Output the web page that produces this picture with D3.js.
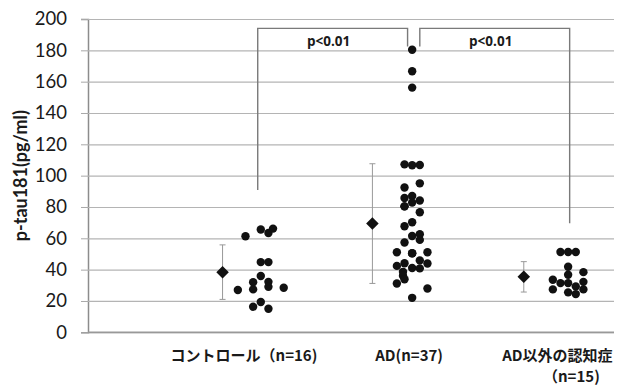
<!DOCTYPE html>
<html>
<head>
<meta charset="utf-8">
<script src="https://cdn.jsdelivr.net/npm/d3@7"></script>
<style>
  body { margin: 0; background: #fff; }
  svg { display: block; }
  .tick text { font-family: Lato, "Noto Sans", sans-serif; }
</style>
</head>
<body>
<svg id="chart"></svg>
<script>
const width = 625;
const height = 386;

// groups: name lines + where the label sits on the x scale
const categories = [["コントロール（n=16)"], ["AD(n=37)"], ["AD以外の認知症", "（n=15)"]];
const categoryPos = [0.88, 1.96, 2.93];

// individual values (x = scatter position, y = pg/ml)
const ctrlX = [0.89, 0.99, 1.04, 1.07, 0.99, 1.04, 0.99, 0.94, 1.04, 0.84, 0.94, 1.04, 1.14, 0.99, 0.94, 1.04];
const ctrlY = [61.3, 65.6, 63.4, 66.2, 44.8, 44.8, 35.9, 32.0, 32.2, 27.0, 27.4, 29.0, 28.4, 19.3, 16.3, 15.0];

const adX = [1.93, 1.98, 2.03, 1.93, 2.03, 1.93, 1.98, 1.98, 2.03, 1.93, 2.03, 1.98, 1.93, 1.98, 2.03, 2.03, 1.93,
  1.88, 1.98, 2.08, 2.03, 1.93, 2.08, 1.88, 1.98, 2.03, 1.92, 1.92, 1.93, 1.88, 2.08, 1.98, 1.98, 1.98, 1.98, 1.93, 1.98];
const adY = [107.2, 106.6, 106.8, 92.4, 95.1, 85.7, 87.0, 82.8, 84.1, 80.4, 76.6, 70.3, 67.7, 61.5, 62.6, 59.0, 57.3,
  51.1, 50.5, 51.1, 45.9, 44.1, 43.9, 42.4, 41.0, 40.8, 38.6, 36.1, 33.9, 31.2, 28.0, 22.0, 180.4, 166.6, 156.2, 80.4, 50.5];

const otherX = [2.95, 3.00, 3.05, 3.00, 3.10, 3.00, 2.90, 2.95, 3.00, 3.10, 3.05, 2.90, 3.10, 3.00, 3.05];
const otherY = [51.3, 51.3, 51.3, 41.8, 38.4, 36.7, 33.5, 31.4, 31.4, 32.2, 29.3, 27.4, 27.4, 25.5, 24.4];

// mean +/- SD per group
const meanX = [0.74, 1.72, 2.71];
const meanY = [38.4, 69.4, 35.4];
const sdY = [17.4, 38.2, 9.7];

// significance brackets
const brackets = [
  {x1: 0.97, x2: 1.95, top: 194, y1: 90.8, y2: 182.5, label: "p<0.01"},
  {x1: 2.03, x2: 3.01, top: 194, y1: 182.5, y2: 69.6, label: "p<0.01"}
];

const yTicks = d3.range(0, 201, 20);

const margin = {top: 19, right: 11, bottom: 53, left: 88};

const svg = d3.select("#chart")
    .attr("width", width)
    .attr("height", height);

const x = d3.scaleLinear().domain([-0.14, 3.3]).range([margin.left, width - margin.right]);
const y = d3.scaleLinear().domain([0, 200]).range([height - margin.bottom - 0.7, margin.top]);

// grid + y axis
svg.append("g")
    .attr("transform", `translate(${margin.left},0)`)
    .call(d3.axisLeft(y).tickValues(yTicks).tickSize(7).tickPadding(14))
    .call(g => g.select(".domain").attr("stroke", "#8c8c8c").attr("stroke-width", 1.5))
    .call(g => g.selectAll(".tick line").attr("stroke", "#a8a8a8"))
    .call(g => g.selectAll(".tick").append("line")
        .attr("x1", 0).attr("x2", width - margin.right - margin.left)
        .attr("stroke", "#b4b4b4").attr("stroke-width", 1.2))
    .call(g => g.selectAll(".tick text")
        .attr("font-size", 18.5).attr("fill", "#1a1a1a"));

svg.append("line")
    .attr("x1", margin.left).attr("x2", width - margin.right)
    .attr("y1", y(0)).attr("y2", y(0))
    .attr("stroke", "#999").attr("stroke-width", 1.5);

svg.append("text")
    .attr("transform", `translate(22,${(y(0) + y(200)) / 2}) rotate(-90)`)
    .attr("text-anchor", "middle")
    .attr("dominant-baseline", "middle")
    .attr("font-family", "Lato, 'Noto Sans', sans-serif")
    .attr("font-weight", "bold")
    .attr("font-size", 18)
    .attr("fill", "#1a1a1a")
    .text("p-tau181(pg/ml)");

// brackets
const br = svg.append("g");
brackets.forEach(b => {
    br.append("path")
        .attr("d", `M${x(b.x1)},${y(b.y1)} V${y(b.top)} H${x(b.x2)} V${y(b.y2)}`)
        .attr("fill", "none")
        .attr("stroke", "#7a7a7a")
        .attr("stroke-width", 1.4);
    br.append("text")
        .attr("x", (x(b.x1) + x(b.x2)) / 2 - 4)
        .attr("y", y(b.top) + 18)
        .attr("text-anchor", "middle")
        .attr("font-family", "'Open Sans', 'Noto Sans', sans-serif")
        .attr("font-weight", "bold")
        .attr("font-size", 13.5)
        .attr("fill", "#1a1a1a")
        .text(b.label);
});

// error bars + diamonds
const mg = svg.append("g");
meanX.forEach((mx, i) => {
    const cx = x(mx);
    mg.append("line")
        .attr("x1", cx).attr("x2", cx)
        .attr("y1", y(meanY[i] - sdY[i])).attr("y2", y(meanY[i] + sdY[i]))
        .attr("stroke", "#999").attr("stroke-width", 1);
    [meanY[i] - sdY[i], meanY[i] + sdY[i]].forEach(v => {
        mg.append("line")
            .attr("x1", cx - 3).attr("x2", cx + 3)
            .attr("y1", y(v)).attr("y2", y(v))
            .attr("stroke", "#999").attr("stroke-width", 1);
    });
    mg.append("path")
        .attr("d", d3.symbol(d3.symbolDiamond2, 100)())
        .attr("transform", `translate(${cx},${y(meanY[i])})`)
        .attr("fill", "#111");
});

// dots
const groups = [[ctrlX, ctrlY], [adX, adY], [otherX, otherY]];
const dots = svg.append("g");
groups.forEach(([xs, ys]) => {
    dots.selectAll(null)
        .data(ys)
        .enter().append("circle")
        .attr("cx", (d, i) => x(xs[i]))
        .attr("cy", d => y(d))
        .attr("r", 4.2)
        .attr("fill", "#111");
});

// category labels
const lab = svg.append("g")
    .attr("font-family", "'Noto Sans CJK JP', sans-serif")
    .attr("font-weight", "bold")
    .attr("font-size", 15)
    .attr("fill", "#1a1a1a")
    .attr("text-anchor", "middle");
categories.forEach((lines, i) => {
    lines.forEach((t, j) => {
        lab.append("text")
            .attr("x", x(categoryPos[i]) + (j > 0 ? 14 : 0))
            .attr("y", 361 + j * 20.5)
            .text(t);
    });
});
</script>
</body>
</html>
